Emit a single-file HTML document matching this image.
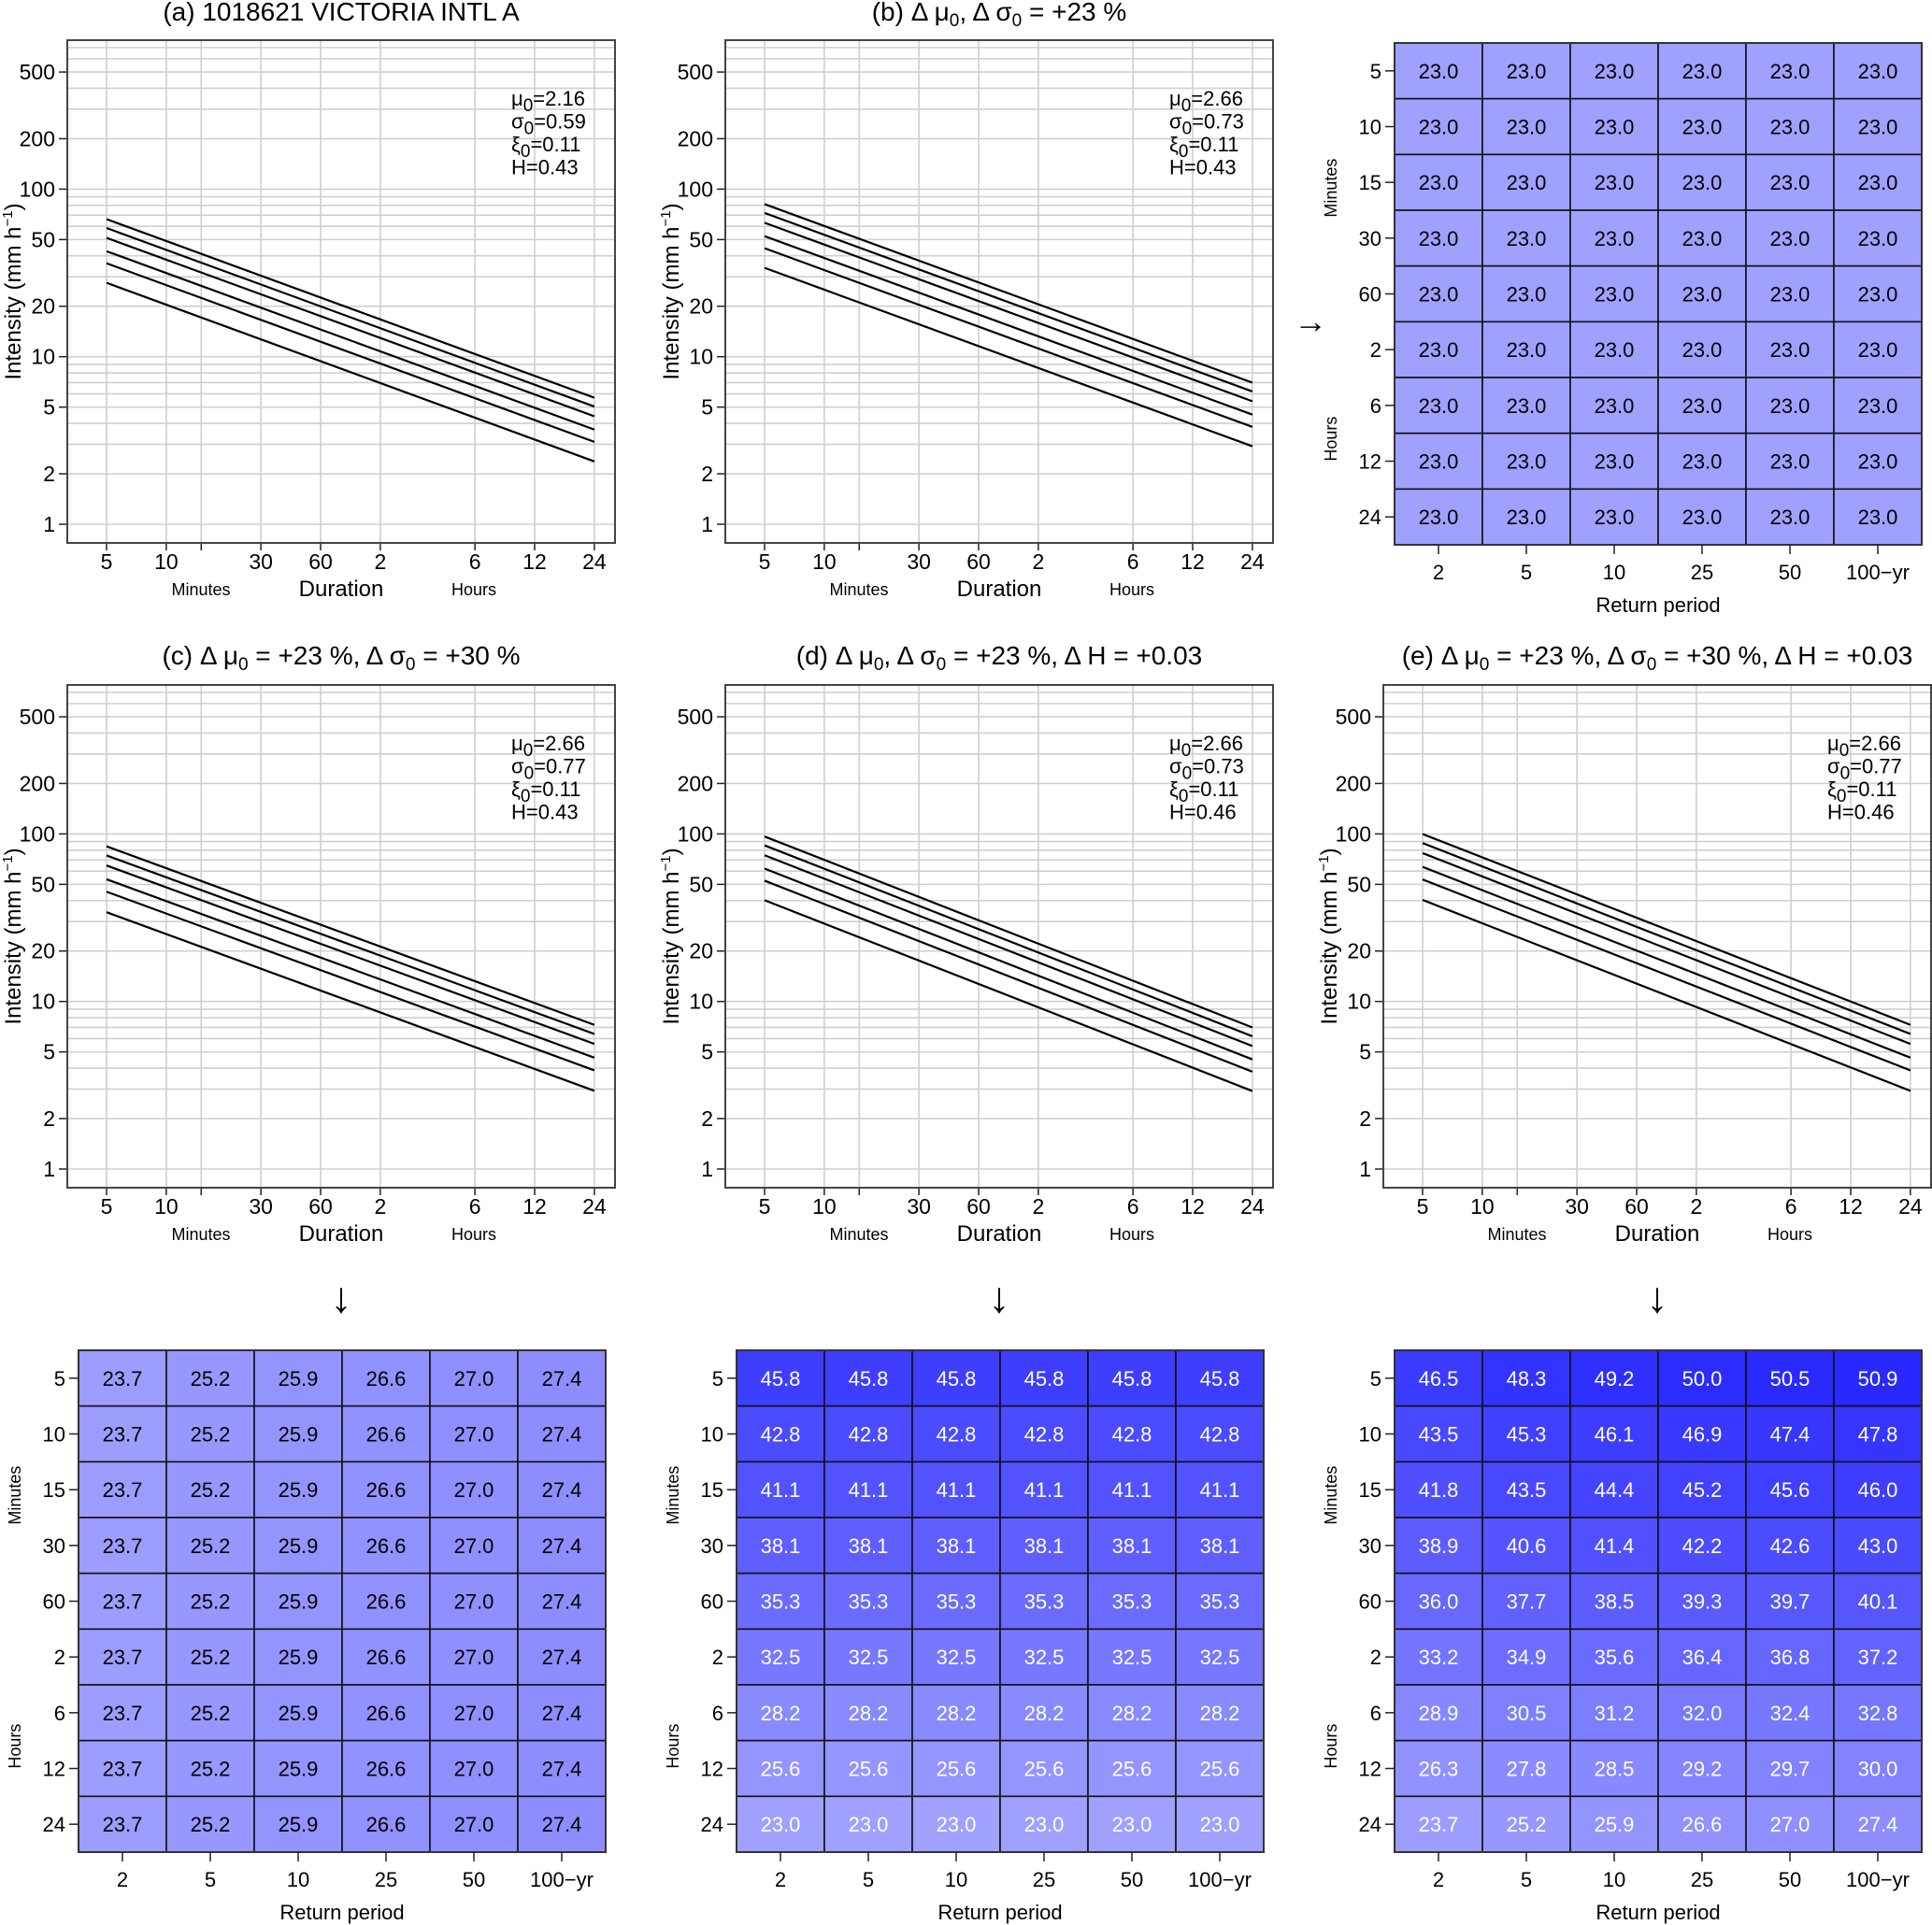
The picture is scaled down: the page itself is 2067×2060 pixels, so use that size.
<!DOCTYPE html>
<html><head><meta charset="utf-8">
<style>
html,body{margin:0;padding:0;background:#fff;}
svg{display:block;font-family:"Liberation Sans",sans-serif;}
</style></head>
<body>
<svg id="fig" width="2067" height="2060" viewBox="0 0 2067 2060" xmlns="http://www.w3.org/2000/svg"></svg>
<script>
// ---- data ----
const durationsMin = [5, 10, 15, 30, 60, 120, 360, 720, 1440];
const durTickLabels = ["5","10","","30","60","2","6","12","24"];
const yTicks = [1, 2, 5, 10, 20, 50, 100, 200, 500];
const returnPeriods = ["2","5","10","25","50","100\u2212yr"];
const heatRowLabels = ["5","10","15","30","60","2","6","12","24"];
// line end values (intensity at 5 min and at 24 h), ordered 2..100-yr
const aStart = [27.6, 36.1, 42.6, 51.2, 58.6, 66.2];
const aEnd   = [2.37, 3.10, 3.67, 4.41, 5.04, 5.69];
const bStart = [33.9, 44.4, 52.4, 63.0, 72.1, 81.4];
const bEnd   = [2.92, 3.81, 4.51, 5.42, 6.20, 7.00];
const cStart = [34.1, 45.2, 53.6, 64.8, 74.4, 84.3];
const cEnd   = [2.93, 3.88, 4.62, 5.58, 6.40, 7.25];
const dStart = [40.2, 52.6, 62.1, 74.6, 85.4, 96.5];
const dEnd   = [2.92, 3.81, 4.51, 5.42, 6.20, 7.00];
const eStart = [40.4, 53.5, 63.6, 76.8, 88.2, 99.9];
const eEnd   = [2.93, 3.88, 4.62, 5.58, 6.40, 7.25];
// heatmap values (% change), rows = durations, cols = return periods
const heatB = Array(9).fill([23.0,23.0,23.0,23.0,23.0,23.0]);
const heatC = Array(9).fill([23.7,25.2,25.9,26.6,27.0,27.4]);
const heatD = [[45.8,45.8,45.8,45.8,45.8,45.8],[42.8,42.8,42.8,42.8,42.8,42.8],[41.1,41.1,41.1,41.1,41.1,41.1],[38.1,38.1,38.1,38.1,38.1,38.1],[35.3,35.3,35.3,35.3,35.3,35.3],[32.5,32.5,32.5,32.5,32.5,32.5],[28.2,28.2,28.2,28.2,28.2,28.2],[25.6,25.6,25.6,25.6,25.6,25.6],[23.0,23.0,23.0,23.0,23.0,23.0]];
const heatE = [[46.5,48.3,49.2,50.0,50.5,50.9],[43.5,45.3,46.1,46.9,47.4,47.8],[41.8,43.5,44.4,45.2,45.6,46.0],[38.9,40.6,41.4,42.2,42.6,43.0],[36.0,37.7,38.5,39.3,39.7,40.1],[33.2,34.9,35.6,36.4,36.8,37.2],[28.9,30.5,31.2,32.0,32.4,32.8],[26.3,27.8,28.5,29.2,29.7,30.0],[23.7,25.2,25.9,26.6,27.0,27.4]];

const NS = "http://www.w3.org/2000/svg";
const svg = document.getElementById('fig');
function mk(tag, attrs, parent){ const e=document.createElementNS(NS,tag); for(const k in attrs) e.setAttribute(k,attrs[k]); (parent||svg).appendChild(e); return e; }

function title(cx, y, html, name){
  const t = mk('text',{x:cx,y:y,'text-anchor':'middle','font-size':28});
  t.innerHTML = html;
  
  
}
const SUB0 = '<tspan font-size="19" dy="6">0</tspan><tspan dy="-6">';

function idfPanel(ox, oy, starts, ends, params, id){
  const W=586, H=538;
  const g = mk('g',{});
  
  
  const xs = m => ox + 42 + (Math.log10(m) - Math.log10(5)) * 212.2;
  const ys = v => oy + 518 - Math.log10(v) * 179.3;
  for (let dec=1; dec<=100; dec*=10) for (let k=1;k<=9;k++){
    const v=dec*k; if (v>770) continue;
    const l = mk('line',{x1:ox,x2:ox+W,y1:ys(v),y2:ys(v),stroke:'#cfcfcf','stroke-width':1.6},g);
    
    
  }
  durationsMin.forEach((m,i)=>{
    const l = mk('line',{x1:xs(m),x2:xs(m),y1:oy,y2:oy+H,stroke:'#cfcfcf','stroke-width':1.6},g);
    
    
    mk('line',{x1:xs(m),x2:xs(m),y1:oy+H,y2:oy+H+8,stroke:'#222','stroke-width':1.5},g);
    if (durTickLabels[i]) {
      const t = mk('text',{x:xs(m),y:oy+H+28,'text-anchor':'middle','font-size':23},g);
      t.textContent = durTickLabels[i];
      
      
    }
  });
  yTicks.forEach(v=>{
    mk('line',{x1:ox-9,x2:ox,y1:ys(v),y2:ys(v),stroke:'#222','stroke-width':1.5},g);
    const t = mk('text',{x:ox-13,y:ys(v)+8,'text-anchor':'end','font-size':23},g);
    t.textContent = v;
    
    
  });
  const box = mk('rect',{x:ox,y:oy,width:W,height:H,fill:'none',stroke:'#444','stroke-width':2},g);
  
  
  starts.forEach((s,i)=>{
    const l = mk('line',{x1:xs(5),y1:ys(s),x2:xs(1440),y2:ys(ends[i]),stroke:'#000','stroke-width':2.2},g);
    
    
  });
  const names = ['\u03bc','\u03c3','\u03be'];
  params.forEach((p,i)=>{
    const t = mk('text',{x:ox+475,y:oy+70+i*24.5,'font-size':22},g);
    t.innerHTML = i<3 ? names[i]+SUB0+'='+p+'</tspan>' : 'H='+p;
    
    
  });
  const yl = mk('text',{x:0,y:0,'text-anchor':'middle','font-size':24,transform:`translate(${ox-50},${oy+H/2}) rotate(-90)`},g);
  yl.innerHTML = 'Intensity (mm h<tspan font-size="15" dy="-9">\u22121</tspan><tspan dy="9">)</tspan>';
  
  
  const mi = mk('text',{x:ox+143,y:oy+H+56,'text-anchor':'middle','font-size':18},g);
  mi.textContent='Minutes';
  
  
  const du = mk('text',{x:ox+293,y:oy+H+57,'text-anchor':'middle','font-size':24},g);
  du.textContent='Duration';
  
  
  const ho = mk('text',{x:ox+435,y:oy+H+56,'text-anchor':'middle','font-size':18},g);
  ho.textContent='Hours';
  
  
}

function heatColor(v){
  const c = Math.max(0, Math.min(255, Math.round(160 - (v-23)*4.3)));
  return `rgb(${c},${c},255)`;
}
function heatmap(ox, oy, vals, textColor, id){
  const W=564, H=537, cw=W/6, ch=H/9;
  const g = mk('g',{});
  
  
  vals.forEach((row,r)=>row.forEach((v,c)=>{
    const rc = mk('rect',{x:ox+c*cw,y:oy+r*ch,width:cw,height:ch,fill:heatColor(v),stroke:'#111','stroke-width':1.6},g);
    
    
    const t = mk('text',{x:ox+c*cw+cw/2,y:oy+r*ch+ch/2+8,'text-anchor':'middle','font-size':22,fill:textColor},g);
    t.textContent = v.toFixed(1);
    
    
  }));
  mk('rect',{x:ox,y:oy,width:W,height:H,fill:'none',stroke:'#333','stroke-width':2},g);
  heatRowLabels.forEach((l,r)=>{
    const y = oy+r*ch+ch/2;
    mk('line',{x1:ox-10,x2:ox,y1:y,y2:y,stroke:'#222','stroke-width':1.5},g);
    const t = mk('text',{x:ox-14,y:y+8,'text-anchor':'end','font-size':22},g);
    t.textContent=l;
    
    
  });
  returnPeriods.forEach((l,c)=>{
    const x = ox+c*cw+cw/2;
    mk('line',{x1:x,x2:x,y1:oy+H,y2:oy+H+10,stroke:'#222','stroke-width':1.5},g);
    const t = mk('text',{x:x,y:oy+H+37,'text-anchor':'middle','font-size':22},g);
    t.textContent=l;
    
    
  });
  const rp = mk('text',{x:ox+W/2,y:oy+H+72,'text-anchor':'middle','font-size':22},g);
  rp.textContent='Return period';
  
  
  const mn = mk('text',{x:0,y:0,'text-anchor':'middle','font-size':18,transform:`translate(${ox-62},${oy+ch*2.6}) rotate(-90)`},g);
  mn.textContent='Minutes';
  
  
  const hr = mk('text',{x:0,y:0,'text-anchor':'middle','font-size':18,transform:`translate(${ox-62},${oy+ch*7.1}) rotate(-90)`},g);
  hr.textContent='Hours';
  
  
}

title(365, 22, '(a) 1018621 VICTORIA INTL A', 'title-a');
title(1069, 22, '(b) \u0394 \u03bc'+SUB0+', \u0394 \u03c3</tspan>'+SUB0+' = +23 %</tspan>', 'title-b');
title(365, 711, '(c) \u0394 \u03bc'+SUB0+' = +23 %, \u0394 \u03c3</tspan>'+SUB0+' = +30 %</tspan>', 'title-c');
title(1069, 711, '(d) \u0394 \u03bc'+SUB0+', \u0394 \u03c3</tspan>'+SUB0+' = +23 %, \u0394 H = +0.03</tspan>', 'title-d');
title(1773, 711, '(e) \u0394 \u03bc'+SUB0+' = +23 %, \u0394 \u03c3</tspan>'+SUB0+' = +30 %, \u0394 H = +0.03</tspan>', 'title-e');

idfPanel(72, 43, aStart, aEnd, ['2.16','0.59','0.11','0.43'], 'a');
idfPanel(776, 43, bStart, bEnd, ['2.66','0.73','0.11','0.43'], 'b');
idfPanel(72, 733, cStart, cEnd, ['2.66','0.77','0.11','0.43'], 'c');
idfPanel(776, 733, dStart, dEnd, ['2.66','0.73','0.11','0.46'], 'd');
idfPanel(1480, 733, eStart, eEnd, ['2.66','0.77','0.11','0.46'], 'e');

heatmap(1492, 46, heatB, '#000', 'b');
heatmap(84, 1445, heatC, '#000', 'c');
heatmap(788, 1445, heatD, '#fff', 'd');
heatmap(1492, 1445, heatE, '#fff', 'e');

// arrows
const ar = mk('text',{x:1402,y:356,'text-anchor':'middle','font-size':36}); ar.textContent='\u2192';


[365,1069,1773].forEach(x=>{
  const a = mk('text',{x:x,y:1404,'text-anchor':'middle','font-size':46}); a.textContent='\u2193';
  
  
});
</script>
</body></html>
